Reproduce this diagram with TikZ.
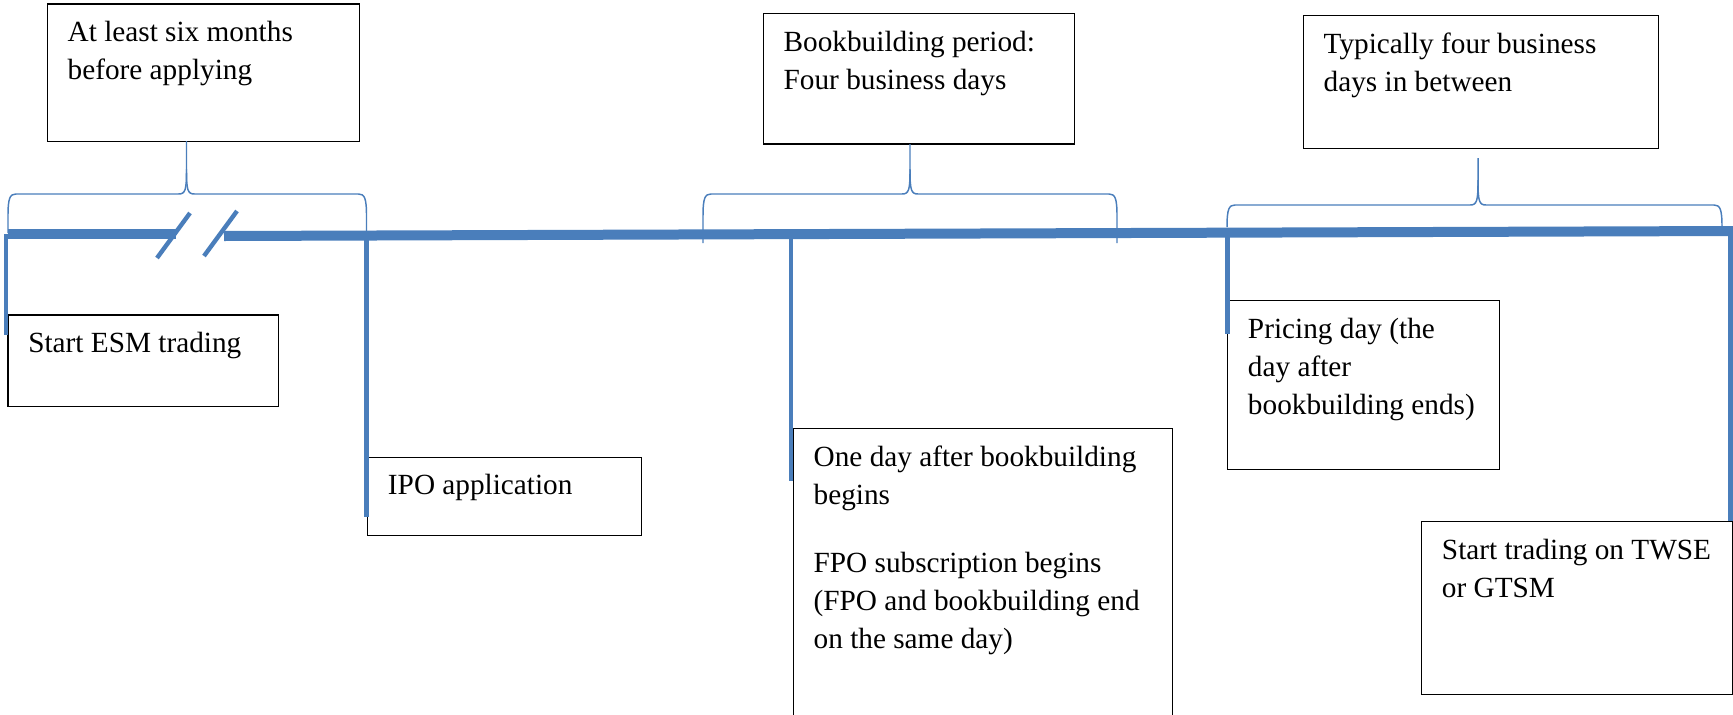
\documentclass[tikz,border=0pt]{standalone}
\usepackage{fontspec}
\setmainfont{Liberation Serif}
\usepackage{xcolor}
\usetikzlibrary{positioning}

\definecolor{tlblue}{HTML}{4A7EBB}
\newlength\tlu
\setlength\tlu{0.41pt}

% curly bracket over a stretch of the timeline: xl, xm, xr, yend, yflat, ypeak
\newcommand\tlbrace[6]{%
  \draw[curly] (#1,#4) -- (#1,#5+22) .. controls (#1,#5+4) and (#1+2,#5) .. (#1+8,#5)
    -- (#2-8,#5) .. controls (#2-1,#5) and (#2,#5-4) .. (#2,#5-25) -- (#2,#6);
  \draw[curly] (#2,#5-25) .. controls (#2,#5-4) and (#2+1,#5) .. (#2+8,#5)
    -- (#3-8,#5) .. controls (#3-2,#5) and (#3,#5+4) .. (#3,#5+22) -- (#3,#4);
}

\tikzset{
    evbox/.style={draw=black, line width=0.6pt, anchor=north west, inner sep=0pt},
    evtext/.style={inner sep=0pt, align=left, font=\fontsize{12}{15.6}\selectfont},
    timeline/.style={draw=tlblue, line width=4.1pt},
    tick/.style={draw=tlblue, line width=1.8pt},
    curly/.style={draw=tlblue, line width=0.6pt}
}

\begin{document}
\begin{tikzpicture}[x=\tlu, y=-\tlu]
        \useasboundingbox (0,0) rectangle (1733,714);

        % boxes
        \node[evbox, minimum width=312.3\tlu, minimum height=137.4\tlu] (sixm) at (46.7,3.3) {};
        \node[evbox, minimum width=311.3\tlu, minimum height=130.3\tlu] (bkbd) at (762.7,13) {};
        \node[evbox, minimum width=355\tlu, minimum height=133\tlu] (fourd) at (1302.7,15) {};
        \node[evbox, minimum width=270.4\tlu, minimum height=91.7\tlu] (esm) at (7.3,314.3) {};
        \node[evbox, minimum width=274\tlu, minimum height=78.5\tlu] (ipo) at (367,456.5) {};
        \node[evbox, minimum width=379.3\tlu, minimum height=320\tlu] (fpo) at (792.7,428) {};
        \node[evbox, minimum width=272\tlu, minimum height=169\tlu] (pricing) at (1227,300) {};
        \node[evbox, minimum width=311\tlu, minimum height=173\tlu] (trading) at (1421,521) {};

        % texts
        \node[evtext, below right=5.4pt and 8.4pt of sixm.north west] (sixm-t)
            {\rule{0pt}{10pt}At least six months\\before applying};
        \node[evtext, below right=5.4pt and 8.4pt of bkbd.north west] (bkbd-t)
            {\rule{0pt}{10pt}Bookbuilding period:\\Four business days};
        \node[evtext, below right=5.4pt and 8.4pt of fourd.north west] (fourd-t)
            {\rule{0pt}{10pt}Typically four business\\days in between};
        \node[evtext, below right=5.4pt and 8.4pt of esm.north west] (esm-t)
            {\rule{0pt}{10pt}Start ESM trading};
        \node[evtext, below right=5.4pt and 8.4pt of ipo.north west] (ipo-t)
            {\rule{0pt}{10pt}IPO application};
        \node[evtext, below right=5.4pt and 8.4pt of fpo.north west] (fpo-t)
            {\rule{0pt}{10pt}One day after bookbuilding\\begins\\[12.3pt]FPO subscription begins\\(FPO and bookbuilding end\\on the same day)};
        \node[evtext, below right=5.4pt and 8.4pt of pricing.north west] (pricing-t)
            {\rule{0pt}{10pt}Pricing day (the\\day after\\bookbuilding ends)};
        \node[evtext, below right=5.4pt and 8.4pt of trading.north west] (trading-t)
            {\rule{0pt}{10pt}Start trading on TWSE\\or GTSM};

        % timeline with break
        \coordinate (tl-start) at (8,234);
        \coordinate (tl-gap1) at (176,234);
        \coordinate (tl-gap2) at (224,236);
        \coordinate (tl-end) at (1733,231);
        \draw[timeline] (tl-start) -- (tl-gap1);
        \draw[timeline] (tl-gap2) -- (tl-end);
        \draw[tick] (157,258) -- (190,213);
        \draw[tick] (204,256) -- (237,211);

        % ticks down to the events
        \foreach \n/\x/\ya/\yb in {esm/6/234/335, ipo/366.5/235.5/517, fpo/791/234/481,
                                   pricing/1227.5/232.7/334, trading/1730.5/231/521} {
            \coordinate (\n-a) at (\x,\ya);
            \coordinate (\n-b) at (\x,\yb);
            \draw[tick] (\n-a) -- (\n-b);
        }

        % brackets
        \tlbrace{8}{186.5}{366.5}{233}{194}{141}
        \tlbrace{703}{910}{1117}{243}{194}{144}
        \tlbrace{1227}{1478}{1722}{227}{205}{158}
    \end{tikzpicture}
\end{document}
